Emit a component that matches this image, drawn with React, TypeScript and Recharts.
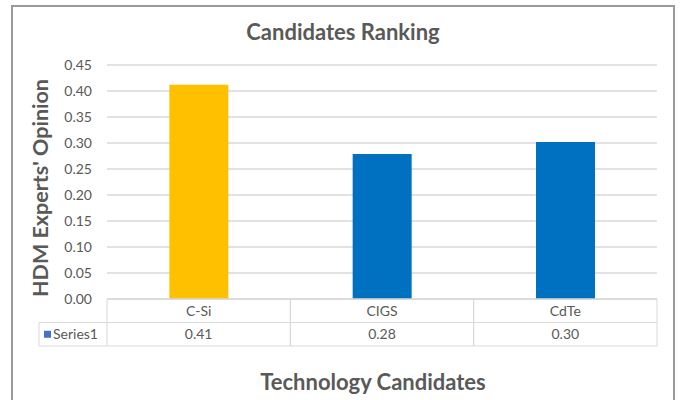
import React from 'react';
import { BarChart, Bar, Cell, XAxis, YAxis, CartesianGrid } from 'recharts';

const categories = ['C-Si', 'CIGS', 'CdTe'];
const opinionValues = [0.412, 0.279, 0.302];
const barColors = ['#FFC000', '#0070C0', '#0070C0'];
const yTicks = [0, 0.05, 0.1, 0.15, 0.2, 0.25, 0.3, 0.35, 0.4, 0.45];
const seriesName = 'Series1';

const data = categories.map((name, i) => ({ name, value: opinionValues[i] }));

const FONT = 'Lato, "Open Sans", sans-serif';
const TEXT = '#595959';
const LINE = '#d9d9d9';
const PLOT_LEFT = 107;
const PLOT_RIGHT = 657;
const BAND = (PLOT_RIGHT - PLOT_LEFT) / categories.length;
const ROW_H = 23.5;

// x-axis tick draws the data-table column: category on top, value below
function TableTick(props: any) {
  const { x, y, payload } = props;
  const idx = payload.index;
  const half = BAND / 2;
  const r1 = y + ROW_H;
  const r2 = y + ROW_H * 2;
  return (
    <g>
      <line x1={x - half} y1={y} x2={x - half} y2={r2} stroke={LINE} />
      <line x1={x + half} y1={y} x2={x + half} y2={r2} stroke={LINE} />
      <line x1={x - half} y1={r1} x2={x + half} y2={r1} stroke={LINE} />
      <line x1={x - half} y1={r2} x2={x + half} y2={r2} stroke={LINE} />
      <text x={x} y={y + ROW_H / 2} dy="0.35em" textAnchor="middle" fill={TEXT} fontSize={14} fontFamily={FONT}>
        {payload.value}
      </text>
      <text x={x} y={r1 + ROW_H / 2} dy="0.35em" textAnchor="middle" fill={TEXT} fontSize={14} fontFamily={FONT}>
        {data[idx].value.toFixed(2)}
      </text>
      {idx === 0 && (
        <g>
          <line x1={39} y1={r1} x2={x - half} y2={r1} stroke={LINE} />
          <line x1={39} y1={r2} x2={x - half} y2={r2} stroke={LINE} />
          <line x1={39} y1={r1} x2={39} y2={r2} stroke={LINE} />
          <rect x={44} y={r1 + ROW_H / 2 - 3.5} width={7} height={7} fill="#4472C4" />
          <text x={53} y={r1 + ROW_H / 2} dy="0.35em" fill={TEXT} fontSize={14} fontFamily={FONT}>
            {seriesName}
          </text>
        </g>
      )}
    </g>
  );
}

export default function App() {
  return (
    <div style={{ position: 'absolute', left: 0, top: 0, width: 680, height: 400, background: '#fff', fontFamily: FONT }}>
      <div
        style={{
          position: 'absolute', left: 11, top: 5, width: 660, height: 400,
          borderLeft: '2px solid #9a9a9a', borderTop: '2px solid #9a9a9a', borderRight: '2px solid #9a9a9a',
        }}
      />
      <div style={{ position: 'absolute', left: 0, top: 18, width: 686, textAlign: 'center', fontSize: 22, fontWeight: 700, color: TEXT }}>
        Candidates Ranking
      </div>
      <div style={{ position: 'absolute', left: 0, top: 368, width: 746, textAlign: 'center', fontSize: 22, fontWeight: 700, color: TEXT }}>
        Technology Candidates
      </div>
      <div
        style={{
          position: 'absolute', left: 40, top: 188, width: 260, marginLeft: -130, marginTop: -13,
          textAlign: 'center', fontSize: 21.5, fontWeight: 700, color: TEXT, lineHeight: '26px',
          transform: 'rotate(-90deg)',
        }}
      >
        HDM Experts' Opinion
      </div>
      <BarChart
        width={680}
        height={400}
        data={data}
        margin={{ top: 65, right: 680 - PLOT_RIGHT, bottom: 53, left: PLOT_LEFT - 60 }}
        style={{ position: 'absolute', left: 0, top: 0 }}
        barCategoryGap="34%"
      >
        <CartesianGrid vertical={false} stroke={LINE} strokeWidth={1.5} />
        <XAxis
          dataKey="name"
          height={48}
          interval={0}
          tickSize={0}
          tickMargin={0}
          tickLine={false}
          axisLine={{ stroke: LINE, strokeWidth: 1.5 }}
          tick={<TableTick />}
        />
        <YAxis
          width={60}
          domain={[0, 0.45]}
          ticks={yTicks}
          tickFormatter={(v: number) => v.toFixed(2)}
          tickSize={0}
          tickMargin={15}
          tickLine={false}
          axisLine={false}
          tick={{ fill: TEXT, fontSize: 14, fontFamily: FONT }}
        />
        <Bar dataKey="value" isAnimationActive={false}>
          {data.map((d, i) => (
            <Cell key={d.name} fill={barColors[i]} />
          ))}
        </Bar>
      </BarChart>
    </div>
  );
}
